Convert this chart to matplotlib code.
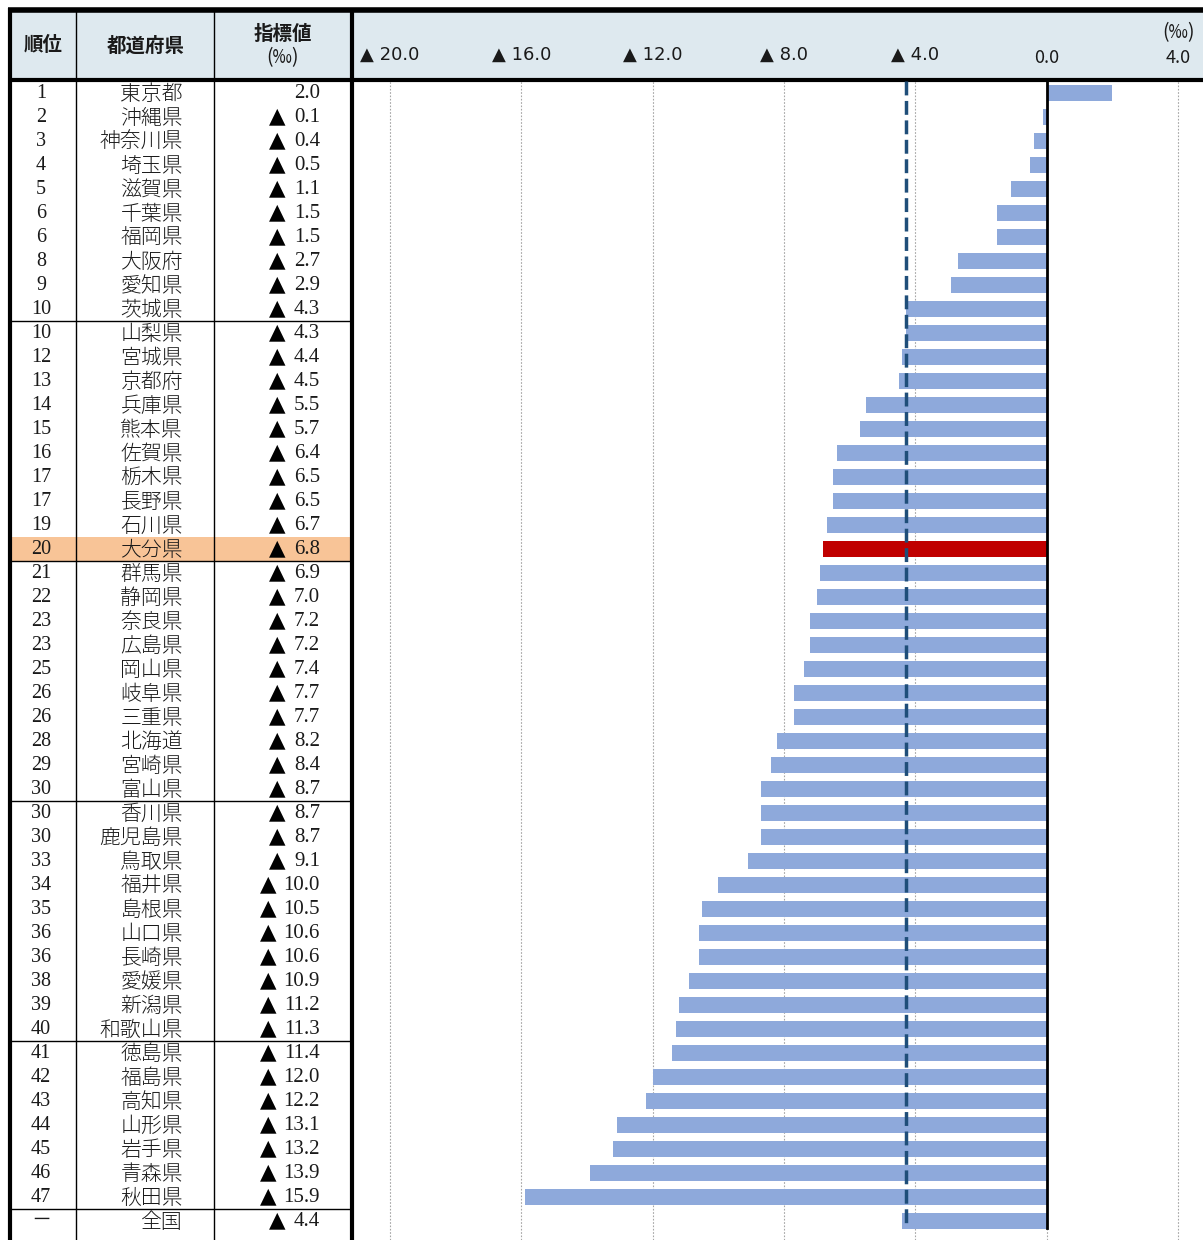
import matplotlib
matplotlib.use("Agg")
import matplotlib.pyplot as plt
from matplotlib.patches import Rectangle

plt.rcParams['font.family'] = ['Noto Sans CJK JP', 'DejaVu Sans']

ranks = ['1','2','3','4','5','6','6','8','9','10','10','12','13','14','15','16','17','17','19','20',
         '21','22','23','23','25','26','26','28','29','30','30','30','33','34','35','36','36','38','39','40',
         '41','42','43','44','45','46','47','－']
prefs = ['東京都','沖縄県','神奈川県','埼玉県','滋賀県','千葉県','福岡県','大阪府','愛知県','茨城県',
         '山梨県','宮城県','京都府','兵庫県','熊本県','佐賀県','栃木県','長野県','石川県','大分県',
         '群馬県','静岡県','奈良県','広島県','岡山県','岐阜県','三重県','北海道','宮崎県','富山県',
         '香川県','鹿児島県','鳥取県','福井県','島根県','山口県','長崎県','愛媛県','新潟県','和歌山県',
         '徳島県','福島県','高知県','山形県','岩手県','青森県','秋田県','全国']
values = [2.0,-0.1,-0.4,-0.5,-1.1,-1.5,-1.5,-2.7,-2.9,-4.3,
          -4.3,-4.4,-4.5,-5.5,-5.7,-6.4,-6.5,-6.5,-6.7,-6.8,
          -6.9,-7.0,-7.2,-7.2,-7.4,-7.7,-7.7,-8.2,-8.4,-8.7,
          -8.7,-8.7,-9.1,-10.0,-10.5,-10.6,-10.6,-10.9,-11.2,-11.3,
          -11.4,-12.0,-12.2,-13.1,-13.2,-13.9,-15.9,-4.4]
highlight = '大分県'
national = -4.4
xticks = [-20, -16, -12, -8, -4, 0, 4]

W, H = 1203, 1240
fig = plt.figure(figsize=(W/100, H/100), dpi=100)

tab = fig.add_axes([0, 0, 1, 1])
tab.set_xlim(0, W)
tab.set_ylim(H, 0)
tab.axis('off')

row_top = 81
row_h = 24.0
TXT = '#1a1a1a'

# header background
tab.add_patch(Rectangle((10, 11), W - 10, 69, facecolor='#DEE9EF', edgecolor='none', zorder=0))
# highlight row
hi = prefs.index(highlight)
tab.add_patch(Rectangle((10, row_top + hi*row_h), 342, row_h, facecolor='#F8C497',
                        edgecolor='none', zorder=0))

body_font = ['Liberation Serif', 'Noto Sans CJK JP', 'DejaVu Sans']
for i, (r, p, v) in enumerate(zip(ranks, prefs, values)):
    yc = 93.5 + i*row_h
    tab.text(41, yc, r, ha='center', va='center', fontsize=14.5, family=body_font, color=TXT)
    tab.text(183, yc, p, ha='right', va='center', fontsize=15, family=['Noto Sans CJK JP'],
             color=TXT, fontweight='light')
    num = '%.1f' % abs(v)
    tab.text(320, yc, num, ha='right', va='center', fontsize=15, family=body_font, color=TXT)
    if v < 0:
        tri_right = 320 - len(num) * 9.4 - 6
        tab.text(tri_right, yc - 1.0, '▲', ha='right', va='center', fontsize=15.5,
                 family=['DejaVu Sans'], color='black')

# header texts
tab.text(43, 45, '順位', ha='center', va='center', fontsize=14, fontweight='bold', color=TXT)
tab.text(146, 46, '都道府県', ha='center', va='center', fontsize=14, fontweight='bold', color=TXT)
tab.text(283, 34, '指標値', ha='center', va='center', fontsize=14, fontweight='bold', color=TXT)
tab.text(283, 58, '(‰)', ha='center', va='center', fontsize=14, color=TXT)

# table lines
tab.plot([8, W], [10, 10], color='black', lw=4, solid_capstyle='butt', zorder=5)
tab.plot([10, 10], [8, H], color='black', lw=3, solid_capstyle='butt', zorder=5)
tab.plot([10, W], [80, 80], color='black', lw=3, solid_capstyle='butt', zorder=5)
tab.plot([352, 352], [10, H], color='black', lw=3, solid_capstyle='butt', zorder=5)
for x in (76, 214):
    tab.plot([x, x], [10, H], color='black', lw=1, zorder=5)
for k in (10, 20, 30, 40, 47):
    y = row_top + k*row_h
    tab.plot([10, 352], [y, y], color='black', lw=1, zorder=5)

# chart axes
px0 = 1046.7
scale = 32.83
xr = (W - px0) / scale
ax_left = 353 / W
ax = fig.add_axes([ax_left, 0, 1 - ax_left, (H - 81) / H])
ax.set_xlim((353 - px0) / scale, xr)
y_top = (81 - 93) / row_h
y_bot = (H - 93) / row_h
ax.set_ylim(y_bot, y_top)
ax.axis('off')

for t in xticks:
    ax.axvline(t, color='#A6A6A6', lw=0.8, ls=(0, (1.5, 1.5)), zorder=0)

ys = list(range(len(values)))
colors = ['#C00000' if p == highlight else '#8EA9DB' for p in prefs]
ax.barh(ys, values, height=0.68, color=colors, edgecolor='none', zorder=2)
y_end = (1228 - 93) / row_h
ax.plot([0, 0], [y_top, y_end], color='black', lw=2, zorder=3)
ax.plot([national + 0.1, national + 0.1], [y_top, y_end], color='#1F4E79', lw=2.5,
        ls=(0, (4, 1.6)), zorder=4)

# tick labels in header
for t in xticks:
    xp = px0 + t*scale
    lab = ('▲ %.1f' % abs(t)) if t < 0 else '%.1f' % t
    tab.text(xp, 55 if t < 0 else 58, lab, ha='center', va='center', fontsize=13,
             family=['DejaVu Sans'] if t < 0 else ['Noto Sans CJK JP'], color=TXT)
tab.text(1179, 33, '(‰)', ha='center', va='center', fontsize=14, color=TXT)

fig.savefig('out.png', dpi=100)
